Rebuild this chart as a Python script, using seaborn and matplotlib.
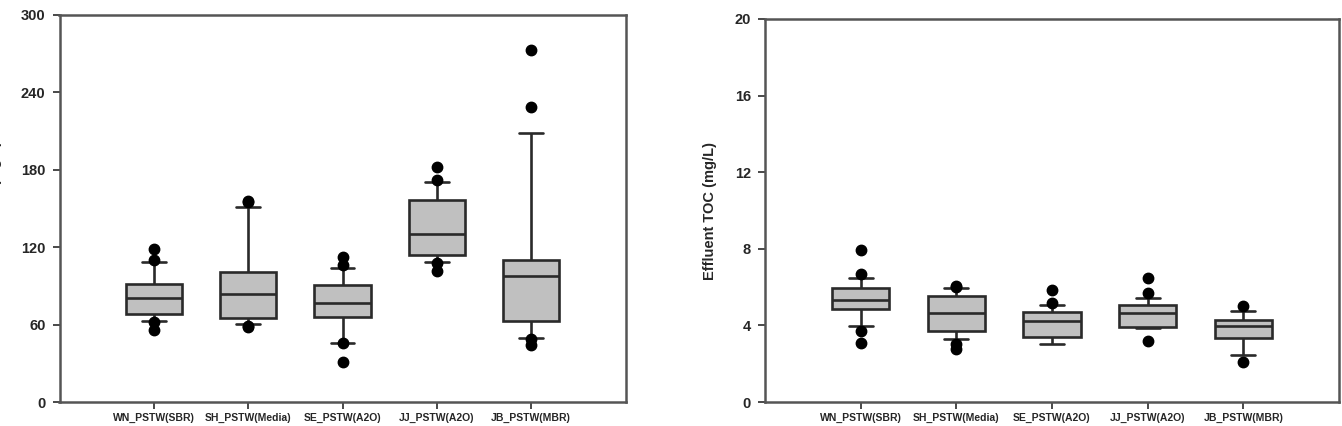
import numpy as np
import pandas as pd
import matplotlib
matplotlib.use('Agg')
import matplotlib.pyplot as plt
import seaborn as sns

#### values (SigmaPlot style: box 25-75, whiskers 10-90, dots beyond)
plants = ['WN_PSTW(SBR)', 'SH_PSTW(Media)', 'SE_PSTW(A2O)', 'JJ_PSTW(A2O)', 'JB_PSTW(MBR)']

# influent TOC (mg/L)
inf_q1 = [68.0, 65.0, 66.0, 113.9, 62.6]
inf_med = [80.5, 84.0, 76.6, 129.9, 97.3]
inf_q3 = [91.5, 100.7, 90.8, 156.5, 110.2]
inf_wlo = [63.0, 60.6, 46.0, 108.5, 49.4]
inf_whi = [108.5, 151.0, 103.5, 170.5, 208.9]
inf_low_pts = [[55.5, 62.0], [58.0, 59.3], [31.3, 45.5], [101.2, 107.8], [44.3, 48.8]]
inf_high_pts = [[110.0, 118.5], [155.0, 156.0], [106.4, 112.3], [172.1, 182.2], [229.0, 272.5]]

# effluent TOC (mg/L)
eff_q1 = [4.84, 3.71, 3.37, 3.93, 3.34]
eff_med = [5.34, 4.63, 4.23, 4.66, 3.95]
eff_q3 = [5.93, 5.53, 4.68, 5.06, 4.26]
eff_wlo = [3.95, 3.31, 3.03, 3.84, 2.43]
eff_whi = [6.47, 5.93, 5.08, 5.45, 4.77]
eff_low_pts = [[3.06, 3.69], [2.77, 3.04], [3.03, 3.03], [3.16, 3.84], [2.07, 2.43]]
eff_high_pts = [[6.68, 7.95], [6.02, 6.07], [5.17, 5.86], [5.67, 6.46], [4.77, 4.99]]


def build(q1, med, q3, wlo, whi, lows, highs):
    # 21 samples per plant -> 10/25/50/75/90th percentiles land exactly on the read values
    rows = []
    for i, p in enumerate(plants):
        vals = lows[i] + [wlo[i]] * 3 + [q1[i]] * 3 + [med[i]] * 5 + [q3[i]] * 3 + [whi[i]] * 3 + highs[i]
        rows += [(p, v) for v in vals]
    return pd.DataFrame(rows, columns=['plant', 'toc'])


dfI = build(inf_q1, inf_med, inf_q3, inf_wlo, inf_whi, inf_low_pts, inf_high_pts)
dfE = build(eff_q1, eff_med, eff_q3, eff_wlo, eff_whi, eff_low_pts, eff_high_pts)

sns.set_style('ticks')
plt.rcParams['font.family'] = ['Liberation Sans', 'DejaVu Sans']
plt.rcParams['font.weight'] = 'bold'

fig = plt.figure(figsize=(13.42, 4.26), dpi=100)
W, H = 1342, 426
axL = fig.add_axes([59.5 / W, 1 - 402 / H, 566 / W, 387 / H])
axR = fig.add_axes([765 / W, 1 - 402 / H, 574 / W, 383 / H])

edge = '#2a2a2a'
flier = dict(marker='o', markerfacecolor='black', markeredgecolor='black', markersize=7.5)

for ax, df, ylim, yticks, ylab, lab_x in [
        (axL, dfI, (0, 300), np.arange(0, 301, 60), 'Influent TOC (mg/L)', -0.102),
        (axR, dfE, (0, 20), np.arange(0, 21, 4), 'Effluent TOC (mg/L)', -0.084)]:
    sns.boxplot(data=df, x='plant', y='toc', order=plants,
                color='#c0c0c0', saturation=1, linecolor=edge, linewidth=1.9,
                width=0.6, whis=(10, 90), capwidths=0.25, flierprops=flier, ax=ax)
    ax.set_xlim(-1, 5)
    ax.set_ylim(*ylim)
    ax.set_yticks(yticks)
    ax.set_xlabel('')
    ax.set_ylabel(ylab, fontsize=10.5, fontweight='bold')
    ax.yaxis.set_label_coords(lab_x, 0.5)
    ax.tick_params(axis='y', labelsize=10.5, length=5, width=1.2, color=edge, pad=5)
    ax.tick_params(axis='x', labelsize=7.5, length=5, width=1.2, color=edge, pad=3)
    for lbl in ax.get_xticklabels() + ax.get_yticklabels():
        lbl.set_fontweight('bold')
    for s in ax.spines.values():
        s.set_visible(True)
        s.set_color('#555555')
        s.set_linewidth(1.8)

plt.savefig('out.png', dpi=100)
